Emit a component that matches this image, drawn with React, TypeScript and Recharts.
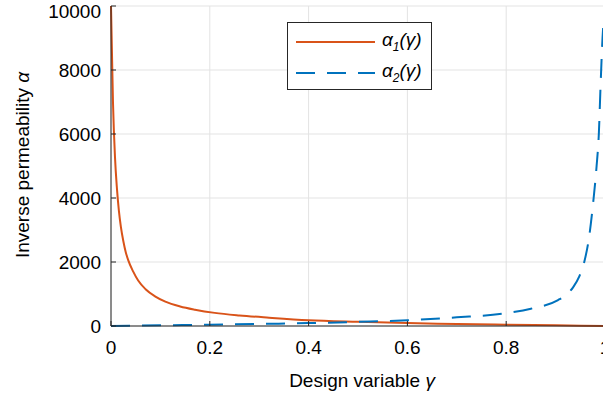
import {
  LineChart,
  Line,
  XAxis,
  YAxis,
  CartesianGrid,
  Legend,
} from "recharts";

// alpha_1(gamma): solid orange curve, sampled densely near gamma = 0
const gamma1 = [
  0, 0.004, 0.008, 0.012, 0.016, 0.02, 0.025, 0.03, 0.035, 0.045, 0.055,
  0.07, 0.09, 0.11, 0.14, 0.17, 0.21, 0.26, 0.32, 0.4, 0.5, 0.6, 0.7, 0.8,
  0.9, 1,
];
const alpha1 = [
  10000, 7000, 5300, 4300, 3600, 3100, 2650, 2300, 2050, 1700, 1420, 1150,
  920, 760, 610, 510, 410, 330, 260, 180, 130, 90, 65, 40, 20, 0,
];

// alpha_2(gamma): dashed blue curve, sampled densely near gamma = 1
const gamma2 = [
  0, 0.1, 0.2, 0.3, 0.4, 0.5, 0.6, 0.7, 0.8, 0.85, 0.905, 0.92, 0.935, 0.948,
  0.958, 0.968, 0.977, 0.983, 0.9875, 0.991, 0.995, 1,
];
const alpha2 = [
  0, 20, 40, 65, 90, 130, 180, 270, 400, 540, 810, 960, 1200, 1550, 2000,
  2800, 4000, 5000, 6000, 7500, 9000, 10000,
];

const xTicks = [0, 0.2, 0.4, 0.6, 0.8, 1];
const yTicks = [0, 2000, 4000, 6000, 8000, 10000];

const COLORS = ["#D95319", "#0072BD"];
const FONT = "'Liberation Sans', Arial, sans-serif";
const AXIS = "#262626";
const FS = 19;

const data1 = gamma1.map((g, i) => ({ g, a: alpha1[i] }));
const data2 = gamma2.map((g, i) => ({ g, a: alpha2[i] }));

const LegendBox = () => (
  <div
    style={{
      border: "1px solid #262626",
      background: "#fff",
      width: 143,
      height: 66,
      boxSizing: "content-box",
      fontFamily: FONT,
      fontSize: FS,
      fontStyle: "italic",
      color: "#000",
    }}
  >
    {[0, 1].map((i) => (
      <div
        key={i}
        style={{
          display: "flex",
          alignItems: "center",
          height: 31,
          marginTop: i === 0 ? 3 : 0,
        }}
      >
        <svg width={94} height={10}>
          <line
            x1={8}
            x2={87}
            y1={5}
            y2={5}
            stroke={COLORS[i]}
            strokeWidth={2}
            strokeDasharray={i === 1 ? "19 12" : undefined}
          />
        </svg>
        <span>
          α<sub style={{ fontSize: 12 }}>{i + 1}</sub>(γ)
        </span>
      </div>
    ))}
  </div>
);

const App = () => {
  return (
    <div style={{ position: "absolute", left: 0, top: 0 }}>
      <LineChart
        width={620}
        height={400}
        margin={{ top: 6, right: 0, bottom: 0, left: 0 }}
        style={{ fontFamily: FONT }}
      >
        <CartesianGrid stroke="#e3e3e3" strokeWidth={1} />
        <XAxis
          dataKey="g"
          type="number"
          domain={[0, 1]}
          ticks={xTicks}
          height={74}
          stroke={AXIS}
          tickSize={-5}
          tickMargin={20}
          tick={{ fontSize: FS, fill: "#000" }}
          allowDuplicatedCategory={false}
          label={{
            content: () => (
              <text
                x={362}
                y={387}
                textAnchor="middle"
                fontSize={FS}
                fill="#000"
                fontFamily={FONT}
              >
                Design variable <tspan fontStyle="italic">γ</tspan>
              </text>
            ),
          }}
        />
        <XAxis
          xAxisId="top"
          orientation="top"
          dataKey="g"
          type="number"
          domain={[0, 1]}
          ticks={xTicks}
          height={0}
          stroke={AXIS}
          tickSize={-5}
          tick={false}
        />
        <YAxis
          type="number"
          domain={[0, 10000]}
          ticks={yTicks}
          width={111}
          stroke={AXIS}
          tickSize={-5}
          tickMargin={15}
          tick={{ fontSize: FS, fill: "#000" }}
          label={{
            content: () => (
              <text
                transform="translate(22,165) rotate(-90)"
                textAnchor="middle"
                dominantBaseline="central"
                fontSize={FS}
                fill="#000"
                fontFamily={FONT}
              >
                Inverse permeability <tspan fontStyle="italic">α</tspan>
              </text>
            ),
          }}
        />
        <YAxis
          yAxisId="right"
          orientation="right"
          type="number"
          domain={[0, 10000]}
          ticks={yTicks}
          width={15}
          stroke={AXIS}
          tickSize={-5}
          tick={false}
        />
        <Legend
          content={() => <LegendBox />}
          layout="vertical"
          align="center"
          verticalAlign="middle"
          wrapperStyle={{ left: 287, top: 22, width: "auto", height: "auto" }}
        />
        <Line
          data={data1}
          dataKey="a"
          type="monotone"
          stroke={COLORS[0]}
          strokeWidth={2}
          dot={false}
          isAnimationActive={false}
        />
        <Line
          data={data2}
          dataKey="a"
          type="monotone"
          stroke={COLORS[1]}
          strokeWidth={2}
          strokeDasharray="19 12"
          dot={false}
          isAnimationActive={false}
        />
      </LineChart>
    </div>
  );
};

export default App;
